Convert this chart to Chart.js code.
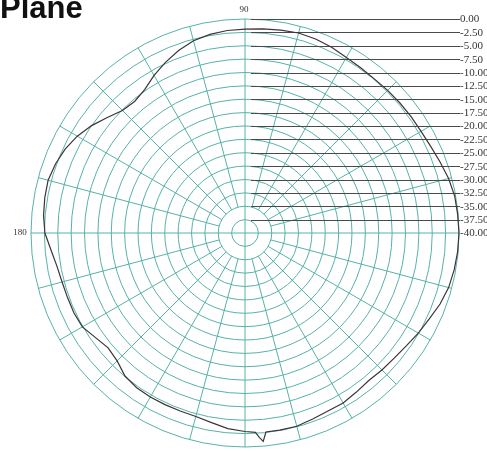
<!DOCTYPE html>
<html>
<head>
<meta charset="utf-8">
<script src="https://cdn.jsdelivr.net/npm/chart.js@4.4.0/dist/chart.umd.min.js"></script>
<style>
  html, body { margin: 0; padding: 0; background: #fff; }
  canvas { display: block; }
</style>
</head>
<body>
<canvas id="chart" width="487" height="454"></canvas>
<script>
// azimuth in degrees (0 = right, counter-clockwise) and measured gain in dB
const azimuth = [0, 5, 10, 15, 20, 25, 30, 35, 40, 45, 50, 55, 60, 65, 70, 75, 80, 85,
    90, 95, 100, 105, 110, 115, 120, 125, 130, 135, 140, 145, 150, 155, 160, 165, 170, 175,
    180, 185, 190, 195, 200, 205, 210, 215, 220, 225, 230, 235, 240, 245, 250, 255, 260, 265,
    270, 273, 274, 275, 276, 280, 285, 290, 295, 300, 305, 310, 315, 320, 325, 330, 335, 340,
    345, 350, 355];
const gain = [0.0, -0.1, -0.2, -0.6, -1.2, -1.7, -2.0, -2.1, -2.2, -2.3, -2.4, -2.3, -2.1, -1.7, -1.4, -1.3, -1.5, -1.7,
    -1.9, -2.0, -2.3, -2.8, -3.7, -4.8, -6.0, -7.3, -7.9, -7.6, -6.4, -5.0, -3.8, -2.9, -2.3, -1.9, -2.0, -2.2,
    -2.6, -3.6, -4.3, -4.6, -4.7, -4.7, -4.9, -5.9, -6.6, -6.2, -5.1, -4.7, -4.6, -4.6, -4.6, -4.5, -4.0, -3.3,
    -2.9, -2.7, -1.7, -0.9, -2.6, -2.6, -2.6, -3.0, -3.3, -3.3, -3.7, -4.0, -3.8, -3.6, -3.2, -2.6, -2.0, -1.2,
    -0.6, -0.3, -0.1];

// rings of the radial axis and the text shown beside them
const ringValues = [0, -2.5, -5, -7.5, -10, -12.5, -15, -17.5, -20, -22.5, -25, -27.5, -30, -32.5, -35, -37.5, -40];
const ringLabels = ['0.00', '-2.50', '-5.00', '-7.50', '-10.00', '-12.50', '-15.00', '-17.50', '-20.00',
    '-22.50', '-25.00', '-27.50', '-30.00', '-32.50', '-35.00', '-37.50', '-40.00'];

const gridColor = 'rgb(86, 178, 168)';

// the radar scale needs one label per degree, index 0 at the top (90 deg)
let labels = [];
let values = [];
for (let i = 0; i < 360; i++) {
    labels.push(String((450 - i) % 360));
    values.push(null);
}
azimuth.forEach(function(a, k) {
    values[(450 - a) % 360] = gain[k];
});

// spokes, leader lines, ring labels, angle labels and heading
const decorations = {
    id: 'decorations',
    beforeDatasetsDraw(chart) {
        const r = chart.scales.r;
        const ctx = chart.ctx;
        ctx.save();

        // spokes every 15 deg; the main axes run through the centre,
        // the others start at the -35 ring
        ctx.strokeStyle = gridColor;
        ctx.lineWidth = 1;
        const outer = r.getDistanceFromCenterForValue(0);
        const inner = r.getDistanceFromCenterForValue(-35);
        for (let i = 0; i < 360; i += 15) {
            const a = r.getPointPosition(i, i % 90 === 0 ? 0 : inner);
            const b = r.getPointPosition(i, outer);
            ctx.beginPath();
            ctx.moveTo(a.x, a.y);
            ctx.lineTo(b.x, b.y);
            ctx.stroke();
        }

        ctx.strokeStyle = '#4a4a4a';
        ringValues.forEach(function(v) {
            if (v === -40) return;
            const y = Math.round(r.yCenter - r.getDistanceFromCenterForValue(v)) + 0.5;
            ctx.beginPath();
            ctx.moveTo(r.xCenter + 6, y);
            ctx.lineTo(460, y);
            ctx.stroke();
        });
        ctx.restore();
    },
    afterDraw(chart) {
        const r = chart.scales.r;
        const ctx = chart.ctx;
        ctx.save();
        ctx.fillStyle = '#333';
        ctx.font = '11px "Liberation Serif"';
        ctx.textBaseline = 'middle';
        ctx.textAlign = 'left';
        ringValues.forEach(function(v, k) {
            const y = r.yCenter - r.getDistanceFromCenterForValue(v);
            ctx.fillText(ringLabels[k], 460, y + 0.5);
        });

        ctx.textAlign = 'center';
        ctx.font = '9px "Liberation Serif"';
        let p = r.getPointPosition(0, r.drawingArea + 9);
        ctx.fillText('90', p.x - 1, p.y);
        p = r.getPointPosition(270, r.drawingArea + 11);
        ctx.fillText('180', p.x, p.y);

        ctx.fillStyle = '#111';
        ctx.font = 'bold 31px "Liberation Sans"';
        ctx.textAlign = 'left';
        ctx.textBaseline = 'alphabetic';
        ctx.fillText('Plane', 0, 18);
        ctx.restore();
    }
};

new Chart(document.getElementById('chart'), {
    type: 'radar',
    data: {
        labels: labels,
        datasets: [{
            data: values,
            borderColor: '#3d3437',
            borderWidth: 1.2,
            pointRadius: 0,
            pointHitRadius: 0,
            fill: false,
            tension: 0,
            spanGaps: true
        }]
    },
    options: {
        responsive: false,
        animation: false,
        events: [],
        layout: { padding: { left: 30, right: 27, top: 19, bottom: 6 } },
        plugins: {
            legend: { display: false },
            tooltip: { enabled: false }
        },
        scales: {
            r: {
                min: -40,
                max: 0,
                ticks: { display: false, stepSize: 2.5 },
                grid: { circular: true, color: gridColor, lineWidth: 1 },
                angleLines: { display: false },
                pointLabels: { display: false }
            }
        }
    },
    plugins: [decorations]
});
</script>
</body>
</html>
